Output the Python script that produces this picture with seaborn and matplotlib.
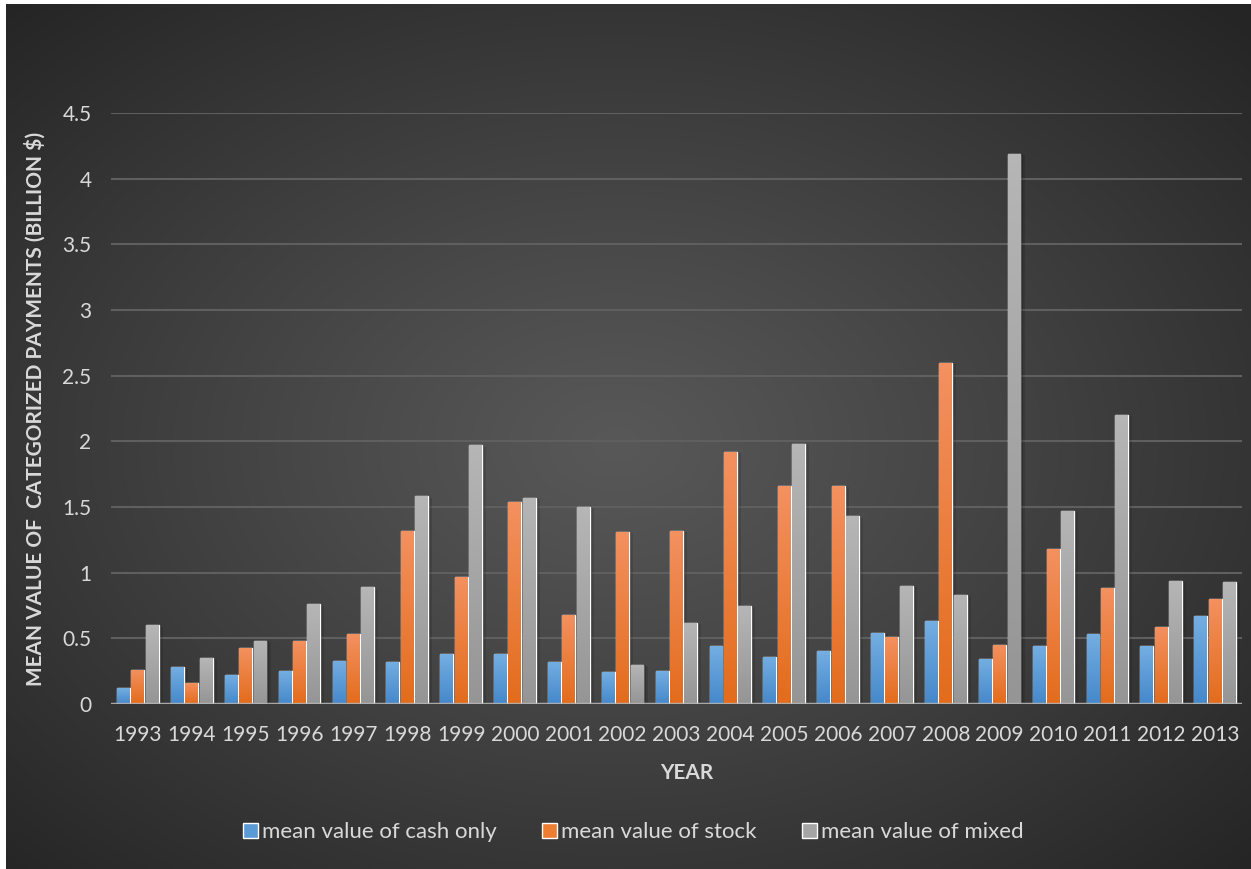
import numpy as np
import pandas as pd
import matplotlib
matplotlib.use("Agg")
import matplotlib.pyplot as plt
import matplotlib.patheffects as pe
import seaborn as sns

# Mean deal value per payment type (billion $)
years = [str(y) for y in range(1993, 2014)]
cash_only = [0.12, 0.28, 0.22, 0.25, 0.33, 0.32, 0.38, 0.38, 0.32, 0.24, 0.25,
             0.44, 0.36, 0.40, 0.54, 0.63, 0.34, 0.44, 0.53, 0.44, 0.67]
stock = [0.26, 0.16, 0.43, 0.48, 0.53, 1.32, 0.97, 1.54, 0.68, 1.31, 1.32,
         1.92, 1.66, 1.66, 0.51, 2.60, 0.45, 1.18, 0.88, 0.59, 0.80]
mixed = [0.60, 0.35, 0.48, 0.76, 0.89, 1.58, 1.97, 1.57, 1.50, 0.30, 0.62,
         0.75, 1.98, 1.43, 0.90, 0.83, 4.19, 1.47, 2.20, 0.94, 0.93]
series_names = ["mean value of cash only", "mean value of stock", "mean value of mixed"]
y_ticks = [0, 0.5, 1, 1.5, 2, 2.5, 3, 3.5, 4, 4.5]

df = pd.DataFrame({
    "year": years * 3,
    "value": cash_only + stock + mixed,
    "series": [series_names[0]] * len(years) + [series_names[1]] * len(years)
              + [series_names[2]] * len(years),
})

base_colors = ["#5b9bd5", "#ed7d31", "#a5a5a5"]
grad_colors = {  # (top, bottom) of each bar fill
    "#5b9bd5": ("#74aee2", "#4588ca"),
    "#ed7d31": ("#f39160", "#e36c1c"),
    "#a5a5a5": ("#b6b6b6", "#959595"),
}
text_col = "#d9d9d9"

sns.set_theme(style="dark")
plt.rcParams["font.family"] = ["Lato", "DejaVu Sans"]

W, H = 1251, 869
fig = plt.figure(figsize=(W / 100, H / 100), dpi=100)
fig.patch.set_facecolor("white")

# Radial dark background panel
bg = fig.add_axes([6 / W, 0, 1 - 6 / W, 1 - 4 / H], zorder=0)
gy, gx = np.mgrid[-1:1:300j, -1:1:450j]
r = np.clip(np.sqrt(((gx + 0.02) ** 2) + ((gy - 0.02) ** 2)) / np.sqrt(2), 0, 1)
c_center = np.array([0x58, 0x58, 0x58]) / 255
c_edge = np.array([0x25, 0x25, 0x25]) / 255
t = r[..., None] ** 1.1
bg.imshow(c_center * (1 - t) + c_edge * t, extent=[0, 1, 0, 1], aspect="auto")
bg.set_axis_off()

ax = fig.add_axes([111 / W, 165 / H, 1131 / W, 591 / H], zorder=1)
ax.set_facecolor("none")

sns.barplot(data=df, x="year", y="value", hue="series", palette=base_colors,
            width=0.8, gap=0.1, ax=ax, saturation=1)

# Vertical gradient fill + soft shadow for each bar
for patch in list(ax.patches):
    x0, y0 = patch.get_x(), patch.get_y()
    w, h = patch.get_width(), patch.get_height()
    if w <= 0 or h <= 0:
        continue
    fc = matplotlib.colors.to_hex(patch.get_facecolor())
    top, bottom = grad_colors.get(fc, (fc, fc))
    c1 = np.array(matplotlib.colors.to_rgb(top))
    c2 = np.array(matplotlib.colors.to_rgb(bottom))
    s = np.linspace(0, 1, 64)[:, None, None]
    img = c1 * (1 - s) + c2 * s
    patch.set_path_effects([
        pe.SimplePatchShadow(offset=(3, -1), shadow_rgbFace="black", alpha=0.12),
        pe.SimplePatchShadow(offset=(1.5, 0), shadow_rgbFace="black", alpha=0.18),
        pe.Normal()])
    im = ax.imshow(img, extent=[x0, x0 + w, y0, y0 + h], aspect="auto",
                   origin="upper", zorder=patch.get_zorder() + 0.1)
    im.set_clip_path(patch)

ax.set_xlim(-0.5, len(years) - 0.5)
ax.set_ylim(0, 4.5)
ax.set_yticks(y_ticks)
ax.set_yticklabels([f"{v:g}" for v in y_ticks])
ax.grid(axis="y", color="#5f5f5f", linewidth=1.5, zorder=0)
ax.grid(axis="x", visible=False)
ax.set_axisbelow(True)
for sp in ax.spines.values():
    sp.set_visible(False)
ax.axhline(0, color="#b5b5b5", linewidth=2.5, alpha=0.85, zorder=5)

ax.tick_params(axis="x", length=0, pad=15, labelsize=15, labelcolor=text_col)
ax.tick_params(axis="y", length=0, pad=14, labelsize=15, labelcolor=text_col)

ax.set_ylabel("MEAN VALUE OF  CATEGORIZED PAYMENTS (BILLION $)", fontsize=15,
              fontweight="bold", color=text_col)
ax.yaxis.set_label_coords(-0.0575, 0.5)
ax.set_xlabel("YEAR", fontsize=15, fontweight="bold", color=text_col)
ax.xaxis.set_label_coords(0.509, -0.0998)

sns.move_legend(ax, "center", bbox_to_anchor=(0.462, -0.2166), ncol=3, frameon=False,
                title=None, fontsize=16, handlelength=0.65, handleheight=0.65,
                handletextpad=0.2, columnspacing=2.05)
for txt in ax.get_legend().get_texts():
    txt.set_color(text_col)

fig.savefig("out.png", dpi=100)
